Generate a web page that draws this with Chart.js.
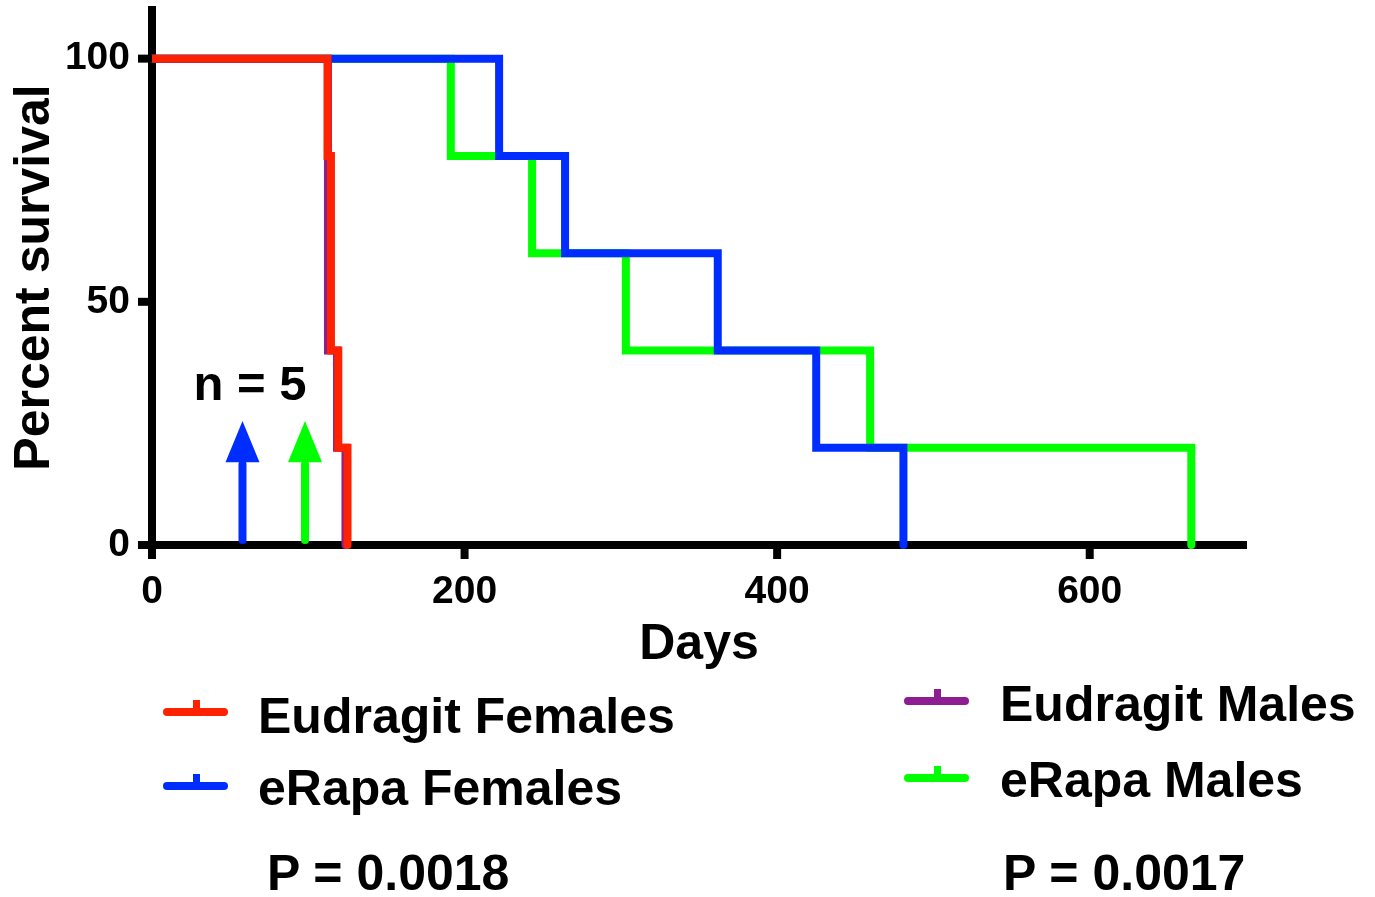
<!DOCTYPE html>
<html lang="en">
<head>
  <meta charset="UTF-8">
  <title>Percent survival</title>
  <script src="https://cdn.jsdelivr.net/npm/chart.js"></script>
  <style>
    html, body { margin: 0; padding: 0; background: #fff; }
    #wrap { position: relative; width: 1375px; height: 897px; }
    #chart { position: absolute; left: 0; top: 0; }
    .lbl { position: absolute; font: bold 50px "Liberation Sans", Arial, sans-serif; line-height: 50px; color: #000; white-space: nowrap; }
    .key { position: absolute; width: 65px; height: 8px; border-radius: 4px; }
    .key i { position: absolute; left: 30px; top: -8px; width: 7px; height: 9px; background: inherit; }
  </style>
</head>
<body>
<div id="wrap">
  <canvas id="chart" width="1375" height="897"></canvas>

  <!-- legend -->
  <div class="key" id="k0" style="left:163px; top:708px;"><i></i></div>
  <div class="lbl" style="left:258px; top:691px;" id="t0"></div>
  <div class="key" id="k1" style="left:163px; top:782px;"><i></i></div>
  <div class="lbl" style="left:258px; top:763px;" id="t1"></div>
  <div class="key" id="k2" style="left:904px; top:697px;"><i></i></div>
  <div class="lbl" style="left:1000px; top:679px;" id="t2"></div>
  <div class="key" id="k3" style="left:904px; top:774px;"><i></i></div>
  <div class="lbl" style="left:1000px; top:755px;" id="t3"></div>

  <div class="lbl" style="left:267px; top:848px;" id="p0"></div>
  <div class="lbl" style="left:1003px; top:848px;" id="p1"></div>
</div>

<script>
// Kaplan-Meier steps (days, percent surviving)
var eudFemDays = [0, 112.3, 114.5, 119.2, 125.1];
var eudFemSurv = [100, 80, 40, 20, 0];
var rapaFemDays = [0, 222.1, 264.3, 362, 425, 480.8];
var rapaFemSurv = [100, 80, 60, 40, 20, 0];
var eudMaleDays = [0, 112.6, 112.6, 112.6, 118.4, 123.8];
var eudMaleSurv = [100, 80, 60, 40, 20, 0];
var rapaMaleDays = [0, 191.2, 243.2, 303.2, 459.5, 665];
var rapaMaleSurv = [100, 80, 60, 40, 20, 0];

var seriesNames = ['Eudragit Females', 'eRapa Females', 'Eudragit Males', 'eRapa Males'];
var seriesColors = ['rgb(255,34,0)', 'rgb(0,45,255)', 'rgb(140,30,145)', 'rgb(0,255,0)'];
var pValues = ['P = 0.0018', 'P = 0.0017'];

var xTickLabels = [0, 200, 400, 600];
var yTickLabels = [0, 50, 100];

// treatment start arrows (day) and colours
var arrowDays = [57.9, 97.9];
var arrowColors = ['rgb(0,45,255)', 'rgb(0,255,0)'];
var nText = 'n = 5';

function pts(xs, ys) {
  return xs.map(function (x, i) { return { x: x, y: ys[i] }; });
}

// legend + p values as html text
seriesNames.forEach(function (name, i) {
  document.getElementById('t' + i).textContent = name;
  document.getElementById('k' + i).style.background = seriesColors[i];
});
pValues.forEach(function (p, i) { document.getElementById('p' + i).textContent = p; });

var FONT = '"Liberation Sans", Arial, sans-serif';

// ticks (major/minor lengths), arrows and the n label
var decor = {
  id: 'decor',
  afterDatasetsDraw: function (chart) {
    var ctx = chart.ctx, xs = chart.scales.x, ys = chart.scales.y;
    var y0 = ys.getPixelForValue(0);
    ctx.save();
    arrowDays.forEach(function (d, i) {
      var x = xs.getPixelForValue(d);
      var yBase = ys.getPixelForValue(17);
      var yTip = ys.getPixelForValue(25.5);
      ctx.strokeStyle = arrowColors[i];
      ctx.fillStyle = arrowColors[i];
      ctx.lineWidth = 8;
      ctx.lineCap = 'round';
      ctx.beginPath();
      ctx.moveTo(x, y0 - 5);
      ctx.lineTo(x, yBase + 2);
      ctx.stroke();
      ctx.beginPath();
      ctx.moveTo(x - 17, yBase);
      ctx.lineTo(x + 17, yBase);
      ctx.lineTo(x, yTip);
      ctx.closePath();
      ctx.fill();
    });
    ctx.fillStyle = '#000';
    ctx.font = 'bold 49px ' + FONT;
    ctx.textAlign = 'center';
    ctx.textBaseline = 'alphabetic';
    ctx.fillText(nText, xs.getPixelForValue(62.7), ys.getPixelForValue(29.8));
    ctx.restore();
  },
  afterDraw: function (chart) {
    var ctx = chart.ctx, xs = chart.scales.x, ys = chart.scales.y;
    var ax = xs.getPixelForValue(0), ay = ys.getPixelForValue(0);
    ctx.save();
    ctx.strokeStyle = '#000';
    ctx.lineWidth = 8;
    ctx.lineCap = 'butt';
    xs.ticks.forEach(function (t) {
      if (t.value % 40 !== 0) return;
      var len = t.value % 200 === 0 ? 14 : 10;
      var x = xs.getPixelForValue(t.value);
      ctx.beginPath();
      ctx.moveTo(x, ay);
      ctx.lineTo(x, ay + len);
      ctx.stroke();
    });
    ys.ticks.forEach(function (t) {
      if (t.value > 100) return;
      var len = t.value % 50 === 0 ? 14 : 10;
      var y = ys.getPixelForValue(t.value);
      ctx.beginPath();
      ctx.moveTo(ax, y);
      ctx.lineTo(ax - len, y);
      ctx.stroke();
    });
    ctx.restore();
  }
};

function lineSet(i, xs, ys) {
  return {
    label: seriesNames[i],
    data: pts(xs, ys),
    borderColor: seriesColors[i],
    backgroundColor: seriesColors[i],
    borderWidth: 8,
    borderCapStyle: 'round',
    borderJoinStyle: 'miter',
    stepped: 'before',
    pointRadius: 0,
    fill: false,
    clip: 12
  };
}

var ctx = document.getElementById('chart').getContext('2d');
var chart = new Chart(ctx, {
  type: 'line',
  data: {
    datasets: [
      lineSet(0, eudFemDays, eudFemSurv),
      lineSet(1, rapaFemDays, rapaFemSurv),
      lineSet(2, eudMaleDays, eudMaleSurv),
      lineSet(3, rapaMaleDays, rapaMaleSurv)
    ]
  },
  options: {
    responsive: false,
    animation: false,
    layout: { padding: { top: 10, right: 129, bottom: 0, left: 0 } },
    plugins: { legend: { display: false }, tooltip: { enabled: false } },
    scales: {
      x: {
        type: 'linear',
        min: 0,
        max: 700,
        grid: { display: false },
        border: { display: true, color: '#000', width: 8 },
        ticks: {
          stepSize: 40,
          autoSkip: false,
          maxRotation: 0,
          padding: 16,
          color: '#000',
          font: { family: FONT, size: 39, weight: 'bold' },
          callback: function (v) { return xTickLabels.indexOf(v) >= 0 ? String(v) : null; }
        },
        title: {
          display: true,
          text: 'Days',
          color: '#000',
          font: { family: FONT, size: 50, weight: 'bold' },
          padding: { top: 0, bottom: 222 }
        },
        afterFit: function (s) { s.height = 352; s.paddingLeft = 0; s.paddingRight = 0; }
      },
      y: {
        type: 'linear',
        min: 0,
        max: 110,
        grid: { display: false },
        border: { display: true, color: '#000', width: 8 },
        ticks: {
          stepSize: 10,
          autoSkip: false,
          padding: 14,
          color: '#000',
          font: { family: FONT, size: 39, weight: 'bold' },
          callback: function (v) { return yTickLabels.indexOf(v) >= 0 ? String(v) : null; }
        },
        title: {
          display: true,
          text: 'Percent survival',
          color: '#000',
          font: { family: FONT, size: 50, weight: 'bold' },
          padding: { top: 5, bottom: 0 }
        },
        afterFit: function (s) { s.width = 152; s.paddingTop = 0; s.paddingBottom = 0; }
      }
    }
  },
  plugins: [decor]
});
</script>
</body>
</html>
